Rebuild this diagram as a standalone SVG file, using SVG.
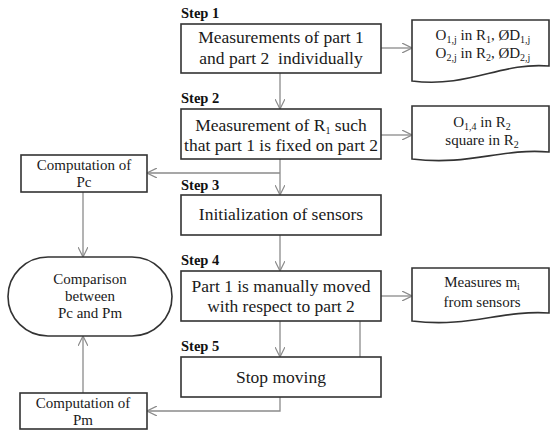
<svg xmlns="http://www.w3.org/2000/svg" width="550" height="435" viewBox="0 0 550 435">
<defs>
<style>
.box{fill:#fff;stroke:#333;stroke-width:1.6}
text{font-family:'Liberation Serif','Times New Roman',serif}
.t{font-size:17.5px;fill:#1a1a1a;text-anchor:middle}
.s{font-size:15px;fill:#1a1a1a;text-anchor:middle}
.st{font-size:14.5px;font-weight:bold;fill:#111}
.sub{font-size:10px}
.c{fill:none;stroke:#8a8a8a;stroke-width:1.3}
</style>
<marker id="a" viewBox="0 0 10 10" refX="10" refY="5" markerWidth="10" markerHeight="10" markerUnits="userSpaceOnUse" orient="auto">
<path d="M0,0 L10,5 L0,10" fill="none" stroke="#8a8a8a" stroke-width="1.2"/>
</marker>
</defs>
<rect width="550" height="435" fill="#fff"/>
<g id="connectors">
<line class="c" x1="280" y1="73" x2="280" y2="109" marker-end="url(#a)"/>
<line class="c" x1="381" y1="48" x2="412" y2="48" marker-end="url(#a)"/>
<line class="c" x1="381" y1="135" x2="412" y2="135" marker-end="url(#a)"/>
<line class="c" x1="280" y1="159" x2="280" y2="195" marker-end="url(#a)"/>
<line class="c" x1="280" y1="173" x2="147" y2="173" marker-end="url(#a)"/>
<line class="c" x1="280" y1="235" x2="280" y2="271" marker-end="url(#a)"/>
<line class="c" x1="381" y1="296" x2="412" y2="296" marker-end="url(#a)"/>
<line class="c" x1="280" y1="321" x2="280" y2="357" marker-end="url(#a)"/>
<line class="c" x1="360" y1="321" x2="360" y2="357"/>
<polyline class="c" points="280,397 280,411 147,411" marker-end="url(#a)"/>
<line class="c" x1="83" y1="192" x2="83" y2="257" marker-end="url(#a)"/>
<line class="c" x1="83" y1="393" x2="83" y2="336" marker-end="url(#a)"/>
</g>
<g id="step1">
<text class="st" x="181" y="18">Step 1</text>
<rect class="box" x="181" y="24" width="200" height="49"/>
<text class="t" x="281" y="43">Measurements of part 1</text>
<text class="t" x="281" y="64" xml:space="preserve">and part 2  individually</text>
</g>
<g id="doc1">
<path class="box" d="M412,20 H549 V66 C500,62 470,88 412,81 Z"/>
<text class="s" x="483" y="40">O<tspan class="sub" dy="3">1,j</tspan><tspan dy="-3"> in R</tspan><tspan class="sub" dy="3">1</tspan><tspan dy="-3">, ØD</tspan><tspan class="sub" dy="3">1,j</tspan></text>
<text class="s" x="483" y="58">O<tspan class="sub" dy="3">2,j</tspan><tspan dy="-3"> in R</tspan><tspan class="sub" dy="3">2</tspan><tspan dy="-3">, ØD</tspan><tspan class="sub" dy="3">2,j</tspan></text>
</g>
<g id="step2">
<text class="st" x="181" y="103">Step 2</text>
<rect class="box" x="181" y="109" width="200" height="50"/>
<text class="t" x="281" y="131">Measurement of R<tspan class="sub" dy="3">1</tspan><tspan dy="-3"> such</tspan></text>
<text class="t" x="281" y="151">that part 1 is fixed on part 2</text>
</g>
<g id="doc2">
<path class="box" d="M412,106 H549 V152 C500,148 470,166 412,159 Z"/>
<text class="s" x="482" y="127">O<tspan class="sub" dy="3">1,4</tspan><tspan dy="-3"> in R</tspan><tspan class="sub" dy="3">2</tspan></text>
<text class="s" x="482" y="145">square in R<tspan class="sub" dy="3">2</tspan></text>
</g>
<g id="step3">
<text class="st" x="181" y="190">Step 3</text>
<rect class="box" x="181" y="195" width="200" height="40"/>
<text class="t" x="281" y="220">Initialization of sensors</text>
</g>
<g id="step4">
<text class="st" x="181" y="265">Step 4</text>
<rect class="box" x="181" y="271" width="200" height="50"/>
<text class="t" x="281" y="292">Part 1 is manually moved</text>
<text class="t" x="281" y="312">with respect to part 2</text>
</g>
<g id="doc3">
<path class="box" d="M412,268 H549 V313 C500,310 470,328 412,321 Z"/>
<text class="s" x="482" y="287">Measures m<tspan class="sub" dy="3">i</tspan></text>
<text class="s" x="482" y="307">from sensors</text>
</g>
<g id="step5">
<text class="st" x="181" y="351">Step 5</text>
<rect class="box" x="181" y="357" width="200" height="40"/>
<text class="t" x="281" y="383">Stop moving</text>
</g>
<g id="pc">
<rect class="box" x="21" y="155" width="126" height="37"/>
<text class="s" x="84" y="170">Computation of</text>
<text class="s" x="84" y="187">Pc</text>
</g>
<g id="comparison">
<rect class="box" x="8" y="257" width="164" height="79" rx="40" ry="39.5"/>
<text class="s" x="90" y="284">Comparison</text>
<text class="s" x="90" y="301">between</text>
<text class="s" x="90" y="318">Pc and Pm</text>
</g>
<g id="pm">
<rect class="box" x="20" y="393" width="127" height="36"/>
<text class="s" x="83" y="408">Computation of</text>
<text class="s" x="83" y="425">Pm</text>
</g>
</svg>
